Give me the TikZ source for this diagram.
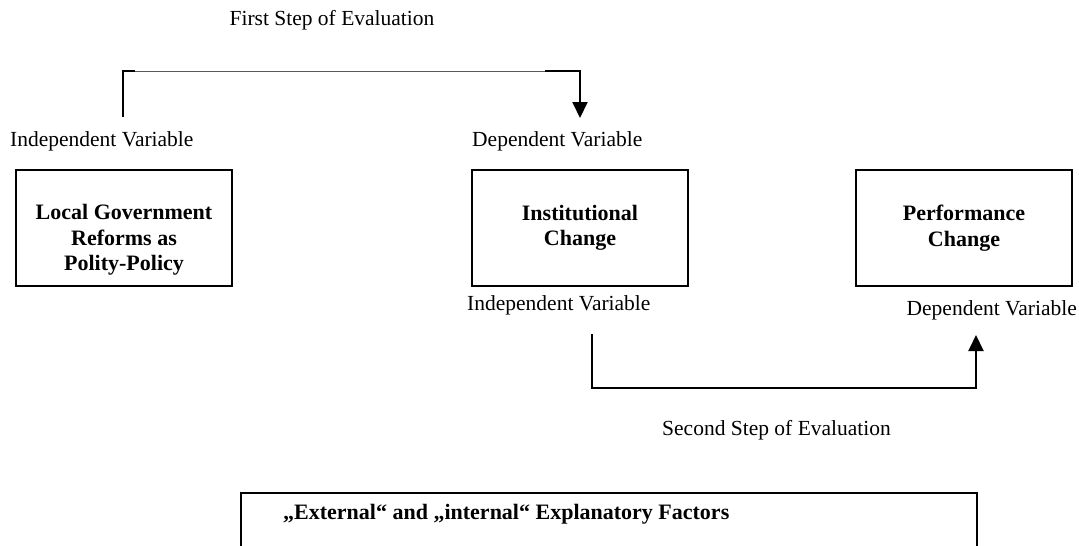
\documentclass[tikz,border=0pt]{standalone}
\usepackage{fontspec}
\setmainfont{Liberation Serif}
\usetikzlibrary{arrows.meta}
\begin{document}
\begin{tikzpicture}[x=1pt,y=-1pt,
  lbl/.style={font=\fontsize{21.5}{25}\selectfont, inner sep=0pt},
  boldtext/.style={font=\fontsize{22}{25.5}\selectfont\bfseries, align=center, inner sep=0pt},
  varbox/.style={draw, line width=2pt, minimum width=216pt, minimum height=116pt, inner sep=0pt},
  conn/.style={line width=2pt},
  tip/.style={-{Triangle[width=15pt,length=16pt]}},
  thinline/.style={line width=1pt, black!65},
]
\useasboundingbox (0,0) rectangle (1079,546);

% labels
\node[lbl] (first) at (332,20) {First Step of Evaluation};
\node[lbl, anchor=west] (iv1) at (10,141) {Independent Variable};
\node[lbl, anchor=west] (dv1) at (472,141) {Dependent Variable};
\node[lbl, anchor=west] (iv2) at (467,305) {Independent Variable};
\node[lbl, anchor=east] (dv2) at (1077,310) {Dependent Variable};
\node[lbl, anchor=west] (second) at (662,430) {Second Step of Evaluation};

% boxes
\node[varbox] (lgr) at (124,228) {};
\node[boldtext] (lgrt) at (124,240) {Local Government\\Reforms as\\Polity-Policy};
\node[varbox] (ic) at (580,228) {};
\node[boldtext] (ict) at (580,228) {Institutional\\Change};
\node[varbox] (pc) at (964,228) {};
\node[boldtext] (pct) at (964,228) {Performance\\Change};

% bottom box
\begin{scope}
\clip (0,0) rectangle (1079,546);
\node[draw, line width=2pt, minimum width=736pt, minimum height=100pt, anchor=north west, inner sep=0pt] (ef) at (240,492) {};
\end{scope}
\node[boldtext, anchor=west] (eft) at (283,514) {„External“ and „internal“ Explanatory Factors};

% first connector
\coordinate (a1) at (123,117);
\coordinate (a2) at (123,71);
\coordinate (a3) at (135,71);
\coordinate (a4) at (545,71);
\coordinate (a5) at (580,71);
\coordinate (a6) at (580,118);
\draw[conn] (a1) -- (a2) -- (a3);
\draw[thinline] (a3) -- (a4);
\draw[conn, tip] (a4) -- (a5) -- (a6);

% second connector
\coordinate (b1) at (592,334);
\coordinate (b2) at (592,388);
\coordinate (b3) at (976,388);
\coordinate (b4) at (976,335);
\draw[conn, tip] (b1) -- (b2) -- (b3) -- (b4);
\end{tikzpicture}
\end{document}
